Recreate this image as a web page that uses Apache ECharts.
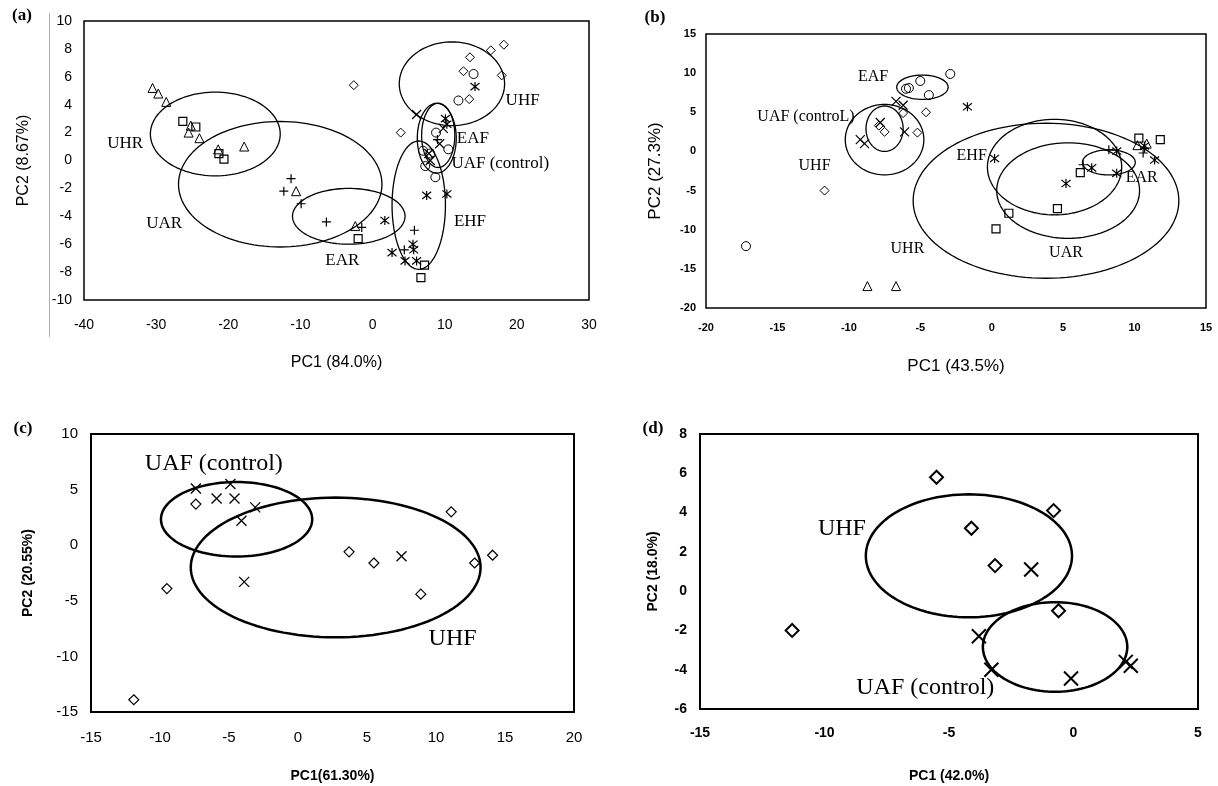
<!DOCTYPE html>
<html>
<head>
<meta charset="utf-8">
<script src="https://cdn.jsdelivr.net/npm/echarts@6/dist/echarts.min.js"></script>
<style>html,body{margin:0;padding:0;background:#fff}#chart{width:1218px;height:786px}</style>
</head>
<body>
<div id="chart"></div>
<script>
// ---------- Panel (a) ----------
var aUHF = [[-2.6,5.4],[13.5,7.4],[16.4,7.9],[18.2,8.3],[12.6,6.4],[17.9,6.1],[13.4,4.4],[3.9,2.0]];
var aEAF = [[14.0,6.2],[11.9,4.3],[8.8,2.0],[10.5,0.8],[7.0,0.7],[8.0,0.5],[7.3,-0.4],[8.7,-1.2]];
var aEHF = [[14.2,5.3],[10.1,3.0],[10.3,2.6],[7.5,-2.5],[10.3,-2.4],[1.7,-4.3],[2.7,-6.6],[5.6,-6.0],[5.7,-6.4],[4.5,-7.2],[6.1,-7.2]];
var aUAF = [[6.1,3.3],[9.8,2.3],[9.3,1.2],[7.8,0.5],[8.0,0.0]];
var aEAR = [[-11.3,-1.3],[-12.3,-2.2],[-9.9,-3.1],[-6.4,-4.4],[-1.5,-4.8],[5.8,-5.0],[4.4,-6.4],[9.0,1.5]];
var aUHR = [[-30.5,5.2],[-29.7,4.8],[-28.6,4.2],[-25.2,2.5],[-25.5,2.0],[-24.0,1.6],[-21.4,0.8],[-17.8,1.0],[-10.6,-2.2],[-2.4,-4.7]];
var aUAR = [[-26.3,2.8],[-24.5,2.4],[-21.3,0.5],[-20.6,0.1],[-2.0,-5.6],[7.2,-7.5],[6.7,-8.4]];
// ellipses: [centerX, centerY, radiusX, radiusY]
var aEllipses = [[-21.8,1.9,9.0,3.0],[-12.8,-1.7,14.1,4.5],[-3.3,-4.0,7.8,2.0],[11.0,5.5,7.3,3.0],[6.4,-3.2,3.7,4.6],[9.1,1.8,2.3,2.3],[8.9,1.6,2.7,2.5]];
var aLabelText = ['UHR','UAR','EAR','EHF','UHF','EAF','UAF (control)'];
var aLabelPos = [[-34.3,1.2],[-28.9,-4.5],[-4.2,-7.2],[13.5,-4.4],[20.8,4.3],[13.9,1.6],[17.7,-0.2]];

// ---------- Panel (b) ----------
var bEAF = [[-2.9,9.9],[-5.0,9.0],[-6.0,8.0],[-5.8,8.1],[-4.4,7.2],[-17.2,-12.1]];
var bUAF = [[-6.7,6.4],[-6.2,5.9],[-7.8,3.7],[-6.1,2.5],[-9.2,1.5],[-8.9,1.0]];
var bUHF = [[-6.2,4.9],[-4.6,5.0],[-7.9,3.3],[-7.5,2.5],[-5.2,2.4],[-11.7,-5.0]];
var bEAR = [[8.2,0.2],[10.6,-0.2],[6.4,-1.7],[10.7,0.4]];
var bEHF = [[-1.7,5.7],[0.2,-0.9],[5.2,-4.1],[7.0,-2.1],[8.75,-2.8],[8.75,0.05],[10.7,0.7],[11.4,-1.1]];
var bUAR = [[10.3,1.7],[11.8,1.5],[6.2,-2.7],[4.6,-7.3],[1.2,-7.9],[0.3,-9.9]];
var bUHR = [[10.2,0.8],[10.85,1.0],[-8.7,-17.2],[-6.7,-17.2]];
var bEllipses = [[-4.85,8.2,1.8,1.55],[-7.5,2.9,1.3,2.9],[-7.5,1.5,2.75,4.5],[4.4,-2.0,4.7,6.1],[5.35,-5.0,5.0,6.1],[3.8,-6.3,9.3,9.9],[8.2,-1.4,1.85,1.6]];
var bLabelText = ['EAF','UAF (controL)','UHF','EHF','EAR','UAR','UHR'];
var bLabelPos = [[-8.3,9.5],[-13.0,4.4],[-12.4,-1.8],[-1.4,-0.6],[10.5,-3.4],[5.2,-12.9],[-5.9,-12.5]];

// ---------- Panel (c) ----------
var cUAF = [[-7.4,5.1],[-4.9,5.5],[-5.9,4.2],[-4.6,4.2],[-3.1,3.4],[-4.1,2.2],[-3.9,-3.3],[7.5,-1.0]];
var cUHF = [[-7.4,3.7],[-9.5,-3.9],[-11.9,-13.9],[3.7,-0.6],[5.5,-1.6],[8.9,-4.4],[11.1,3.0],[12.8,-1.6],[14.1,-0.9]];
var cEllipses = [[-4.45,2.33,5.48,3.35],[2.73,-2.0,10.5,6.28]];
var cLabelText = ['UAF (control)','UHF'];
var cLabelPos = [[-6.1,7.3],[11.2,-8.4]];

// ---------- Panel (d) ----------
var dUHF = [[-5.5,5.8],[-0.8,4.1],[-4.1,3.2],[-3.15,1.3],[-0.6,-1.0],[-11.3,-2.0]];
var dUAF = [[-1.7,1.1],[-3.8,-2.3],[-3.3,-4.0],[-0.1,-4.45],[2.1,-3.6],[2.3,-3.8]];
var dEllipses = [[-4.2,1.8,4.14,3.13],[-0.74,-2.84,2.9,2.28]];
var dLabelText = ['UHF','UAF (control)'];
var dLabelPos = [[-9.3,3.2],[-5.95,-4.9]];

// axis ranges / tick labels
var axA = {xMin:-40,xMax:30,xInt:10,yMin:-10,yMax:10,yInt:2};
var axB = {xMin:-20,xMax:15,xInt:5,yMin:-20,yMax:15,yInt:5};
var axC = {xMin:-15,xMax:20,xInt:5,yMin:-15,yMax:10,yInt:5};
var axD = {xMin:-15,xMax:5,xInt:5,yMin:-6,yMax:8,yInt:2};
var axisTitles = {a:['PC1 (84.0%)','PC2 (8.67%)'], b:['PC1 (43.5%)','PC2 (27.3%)'], c:['PC1(61.30%)','PC2 (20.55%)'], d:['PC1 (42.0%)','PC2 (18.0%)']};

// ---------- build ----------
var SANS = 'Liberation Sans, Arial, sans-serif';
var SERIF = 'Liberation Serif, Times New Roman, serif';
var SYM = {
  plus: 'path://M0,5L10,5M5,0L5,10',
  cross: 'path://M0,0L10,10M10,0L0,10',
  star: 'path://M1,1L9,9M9,1L1,9M5,0L5,10'
};

function scatter(idx, data, symbol, size, bw) {
  return {
    type: 'scatter', xAxisIndex: idx, yAxisIndex: idx, data: data,
    symbol: symbol, symbolSize: size, silent: true,
    itemStyle: {color: 'rgba(0,0,0,0)', borderColor: '#000', borderWidth: bw, opacity: 1},
    z: 3
  };
}
function ellipses(idx, data, lw) {
  return {
    type: 'custom', xAxisIndex: idx, yAxisIndex: idx, data: data, silent: true, z: 2,
    renderItem: function (params, api) {
      var cx = api.value(0), cy = api.value(1), rx = api.value(2), ry = api.value(3);
      var pts = [];
      for (var i = 0; i < 120; i++) {
        var t = i / 120 * Math.PI * 2;
        pts.push(api.coord([cx + rx * Math.cos(t), cy + ry * Math.sin(t)]));
      }
      return {type: 'polygon', shape: {points: pts}, style: {fill: 'none', stroke: '#000', lineWidth: lw}};
    }
  };
}
function labels(idx, texts, pos, size) {
  return {
    type: 'scatter', xAxisIndex: idx, yAxisIndex: idx, symbolSize: 1, silent: true, z: 4,
    itemStyle: {color: '#fff', opacity: 1},
    data: texts.map(function (t, i) { return {name: t, value: pos[i]}; }),
    label: {show: true, position: 'inside', formatter: '{b}', color: '#000', opacity: 1,
            textBorderWidth: 0, textBorderColor: 'transparent',
            fontFamily: SERIF, fontSize: size}
  };
}
function xAxis(idx, ax, name, o) {
  return {
    type: 'value', gridIndex: idx, min: ax.xMin, max: ax.xMax, interval: ax.xInt,
    splitLine: {show: false}, axisTick: {show: false}, axisLine: {show: false},
    axisLabel: {color: '#000', fontFamily: SANS, fontSize: o.fs, fontWeight: o.fw, margin: o.xm},
    name: name, nameLocation: 'middle', nameGap: o.xg,
    nameTextStyle: {color: '#000', fontFamily: SANS, fontSize: o.nfs, fontWeight: o.nfw}
  };
}
function yAxis(idx, ax, name, o) {
  return {
    type: 'value', gridIndex: idx, min: ax.yMin, max: ax.yMax, interval: ax.yInt,
    splitLine: {show: false}, axisTick: {show: false}, axisLine: {show: false},
    axisLabel: {color: '#000', fontFamily: SANS, fontSize: o.fs, fontWeight: o.fw, margin: o.ym},
    name: name, nameLocation: 'middle', nameGap: o.yg, nameRotate: 90,
    nameTextStyle: {color: '#000', fontFamily: SANS, fontSize: o.nfs, fontWeight: o.nfw}
  };
}

var oA = {fs: 14, fw: 'normal', xm: 18, ym: 12, xg: 55, yg: 52, nfs: 16, nfw: 'normal'};
var oB = {fs: 11, fw: 'bold', xm: 14, ym: 10, xg: 50, yg: 42, nfs: 17, nfw: 'normal'};
var oC = {fs: 15, fw: 'normal', xm: 18, ym: 13, xg: 57, yg: 56, nfs: 14, nfw: 'bold'};
var oD = {fs: 14, fw: 'bold', xm: 17, ym: 13, xg: 60, yg: 40, nfs: 14, nfw: 'bold'};

var gridBase = {show: true, borderColor: '#000', backgroundColor: 'rgba(0,0,0,0)', containLabel: false};
var option = {
  animation: false,
  backgroundColor: '#fff',
  grid: [
    Object.assign({left: 84, top: 21, width: 505, height: 279, borderWidth: 1.5}, gridBase),
    Object.assign({left: 706, top: 34, width: 500, height: 274, borderWidth: 1.5}, gridBase),
    Object.assign({left: 91, top: 434, width: 483, height: 278, borderWidth: 2}, gridBase),
    Object.assign({left: 700, top: 434, width: 498, height: 275, borderWidth: 2}, gridBase)
  ],
  xAxis: [xAxis(0, axA, axisTitles.a[0], oA), xAxis(1, axB, axisTitles.b[0], oB), xAxis(2, axC, axisTitles.c[0], oC), xAxis(3, axD, axisTitles.d[0], oD)],
  yAxis: [yAxis(0, axA, axisTitles.a[1], oA), yAxis(1, axB, axisTitles.b[1], oB), yAxis(2, axC, axisTitles.c[1], oC), yAxis(3, axD, axisTitles.d[1], oD)],
  graphic: [
    {type: 'line', shape: {x1: 49.5, y1: 13, x2: 49.5, y2: 337}, style: {stroke: '#b0b0b0', lineWidth: 1}},
    {type: 'text', x: 22, y: 16, style: {text: '(a)', font: 'bold 17px ' + SERIF, fill: '#000', textAlign: 'center', textVerticalAlign: 'middle'}},
    {type: 'text', x: 655, y: 18, style: {text: '(b)', font: 'bold 17px ' + SERIF, fill: '#000', textAlign: 'center', textVerticalAlign: 'middle'}},
    {type: 'text', x: 23, y: 429, style: {text: '(c)', font: 'bold 17px ' + SERIF, fill: '#000', textAlign: 'center', textVerticalAlign: 'middle'}},
    {type: 'text', x: 653, y: 429, style: {text: '(d)', font: 'bold 17px ' + SERIF, fill: '#000', textAlign: 'center', textVerticalAlign: 'middle'}}
  ],
  series: [
    ellipses(0, aEllipses, 1.3),
    scatter(0, aUHF, 'diamond', 9, 1),
    scatter(0, aEAF, 'circle', 9, 1),
    scatter(0, aEHF, SYM.star, 9, 1.2),
    scatter(0, aUAF, SYM.cross, 9, 1.2),
    scatter(0, aEAR, SYM.plus, 9, 1.2),
    scatter(0, aUHR, 'triangle', 9, 1),
    scatter(0, aUAR, 'rect', 8, 1.2),
    labels(0, aLabelText, aLabelPos, 17),

    ellipses(1, bEllipses, 1.3),
    scatter(1, bEAF, 'circle', 9, 1),
    scatter(1, bUAF, SYM.cross, 9, 1.2),
    scatter(1, bUHF, 'diamond', 9, 1),
    scatter(1, bEAR, SYM.plus, 9, 1.2),
    scatter(1, bEHF, SYM.star, 9, 1.2),
    scatter(1, bUAR, 'rect', 8, 1.2),
    scatter(1, bUHR, 'triangle', 9, 1),
    labels(1, bLabelText, bLabelPos, 16),

    ellipses(2, cEllipses, 2.5),
    scatter(2, cUAF, SYM.cross, 10, 1.3),
    scatter(2, cUHF, 'diamond', 10, 1.2),
    labels(2, cLabelText, cLabelPos, 24),

    ellipses(3, dEllipses, 2.5),
    scatter(3, dUAF, SYM.cross, 14, 2),
    scatter(3, dUHF, 'diamond', 13, 2),
    labels(3, dLabelText, dLabelPos, 24)
  ]
};
var chart = echarts.init(document.getElementById('chart'), null, {renderer: 'canvas'});
chart.setOption(option);
</script>
</body>
</html>
